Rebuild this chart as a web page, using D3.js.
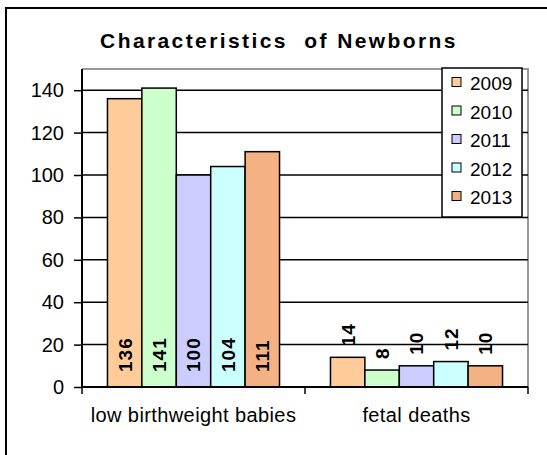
<!DOCTYPE html>
<html>
<head>
<meta charset="utf-8">
<script src="https://cdn.jsdelivr.net/npm/d3@7"></script>
<style>
  body { margin: 0; background: #fff; }
  text { font-family: "Liberation Sans", Arial, sans-serif; }
</style>
</head>
<body>
<svg class="chart" width="547" height="455"></svg>
<script>
const categories = ['low birthweight babies', 'fetal deaths']
const years = ['2009', '2010', '2011', '2012', '2013']
const values = {
  '2009': [136, 14],
  '2010': [141, 8],
  '2011': [100, 10],
  '2012': [104, 12],
  '2013': [111, 10]
}
const yTicks = [0, 20, 40, 60, 80, 100, 120, 140]
const colors = ['#FFCC99', '#CCFFCC', '#CCCCFF', '#CCFFFF', '#F4B183']

const svg = d3.select('.chart')

// outer frame (runs off the right and bottom edge)
svg.append('rect')
  .attr('x', 6).attr('y', 8)
  .attr('width', 600).attr('height', 500)
  .attr('fill', '#fff')
  .attr('stroke', '#000')
  .attr('stroke-width', 2)

svg.append('text')
  .attr('x', 279).attr('y', 48)
  .attr('text-anchor', 'middle')
  .style('font-size', '21px')
  .style('font-weight', 'bold')
  .style('letter-spacing', '2.4px')
  .style('white-space', 'pre')
  .text('Characteristics  of Newborns')

const plotLeft = 82, plotRight = 528, plotTop = 69, plotBottom = 387

const x0 = d3.scaleBand().domain(categories).range([plotLeft, plotRight])
const x1 = d3.scaleBand().domain(years).range([0, x0.bandwidth()])
  .paddingInner(0).paddingOuter(0.74)
const y = d3.scaleLinear().domain([0, 150]).range([plotBottom, plotTop])

// plot area border (grey top/right)
svg.append('path')
  .attr('d', `M${plotLeft},${plotTop}H${plotRight}V${plotBottom}`)
  .attr('fill', 'none')
  .attr('stroke', '#999')
  .attr('stroke-width', 2)

// gridlines
svg.append('g')
  .selectAll('line')
  .data(yTicks.filter(d => d > 0))
  .join('line')
  .attr('x1', plotLeft).attr('x2', plotRight)
  .attr('y1', d => y(d)).attr('y2', d => y(d))
  .attr('stroke', '#000')
  .attr('stroke-width', 1.5)

// bars
const groups = svg.append('g')
  .selectAll('g')
  .data(categories)
  .join('g')
  .attr('transform', d => `translate(${x0(d)},0)`)

const bars = groups.selectAll('g')
  .data((c, i) => years.map((yr, j) => ({ yr, v: values[yr][i], j })))
  .join('g')

bars.append('rect')
  .attr('x', d => x1(d.yr))
  .attr('y', d => y(d.v))
  .attr('width', x1.bandwidth())
  .attr('height', d => y(0) - y(d.v))
  .attr('fill', d => colors[d.j])
  .attr('stroke', '#000')
  .attr('stroke-width', 1.5)

// value labels: at the base inside tall bars, above short ones
bars.append('text')
  .attr('transform', d => {
    const cx = x1(d.yr) + x1.bandwidth() / 2
    const inside = y(0) - y(d.v) > 50
    const ty = inside ? y(0) - 15 : y(d.v) - 11
    return `translate(${cx},${ty}) rotate(-90)`
  })
  .attr('dy', '0.36em')
  .style('font-size', '19px')
  .style('font-weight', 'bold')
  .style('letter-spacing', '1px')
  .text(d => d.v)

// y axis
const yAxis = svg.append('g')
  .attr('transform', `translate(${plotLeft},0)`)
  .call(d3.axisLeft(y).tickValues(yTicks).tickSize(8).tickPadding(10).tickFormat(d3.format('d')))
yAxis.select('.domain').attr('d', `M0,${plotTop}V${plotBottom}`).attr('stroke-width', 2)
yAxis.selectAll('.tick line').attr('stroke-width', 1.5)
yAxis.selectAll('.tick text')
  .style('font-size', '20px')
  .style('font-family', '"Liberation Sans", Arial, sans-serif')
  .attr('fill', '#000')

// x axis
const xAxis = svg.append('g')
  .attr('transform', `translate(0,${plotBottom})`)
xAxis.append('line')
  .attr('x1', plotLeft).attr('x2', plotRight)
  .attr('stroke', '#000').attr('stroke-width', 2)
xAxis.selectAll('.sep')
  .data([plotLeft, x0(categories[1]), plotRight])
  .join('line')
  .attr('x1', d => d).attr('x2', d => d)
  .attr('y1', 0).attr('y2', 7)
  .attr('stroke', '#000').attr('stroke-width', 1.5)
xAxis.selectAll('.lab')
  .data(categories)
  .join('text')
  .attr('x', d => x0(d) + x0.bandwidth() / 2)
  .attr('y', 35)
  .attr('text-anchor', 'middle')
  .style('font-size', '20px')
  .style('letter-spacing', '0.4px')
  .text(d => d)

// legend
const legend = svg.append('g').attr('transform', 'translate(442,68)')
legend.append('rect')
  .attr('width', 80).attr('height', 149)
  .attr('fill', '#fff')
  .attr('stroke', '#000')
  .attr('stroke-width', 1.5)
const item = legend.selectAll('.item')
  .data(years)
  .join('g')
  .attr('transform', (d, i) => `translate(0,${i * 28.5})`)
item.append('rect')
  .attr('x', 10).attr('y', 9.5)
  .attr('width', 9).attr('height', 9)
  .attr('fill', (d, i) => colors[i])
  .attr('stroke', '#000')
  .attr('stroke-width', 1)
item.append('text')
  .attr('x', 28).attr('y', 22)
  .style('font-size', '19px')
  .text(d => d)
</script>
</body>
</html>
